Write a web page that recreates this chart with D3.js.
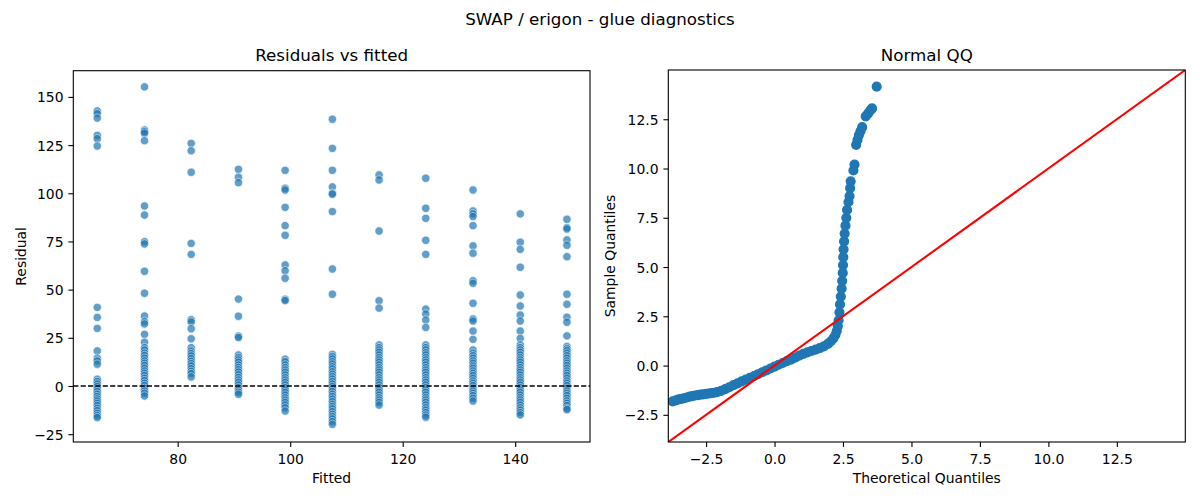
<!DOCTYPE html>
<html><head><meta charset="utf-8">
<script src="https://cdn.jsdelivr.net/npm/d3@7"></script>
<style>
html,body{margin:0;padding:0;background:#fff;}
svg{display:block;font-family:"DejaVu Sans",sans-serif;}
</style></head>
<body><svg id="chart" width="1200" height="500"></svg>
<script>
// ---------- data ----------
const suptitle = "SWAP / erigon - glue diagnostics";
const fittedLevels = [65.7, 74.1, 82.4, 90.8, 99.1, 107.5, 115.8, 124.1, 132.5, 140.9, 149.2];
const res1 = [142.7,141.3,139.0,130.0,128.3,124.5,40.8,35.6,29.9,18.2,14.4,13.0,11.3,3.5,2.3,1.0,-0.3,-1.6,-2.9,-4.3,-5.5,-6.7,-7.8,-9.0,-10.2,-11.6,-12.8,-14.2,-15.4,-16.4];
const res2 = [155.2,132.8,132.0,131.1,127.3,93.4,88.7,74.9,73.7,59.5,48.1,36.3,33.4,32.2,26.8,22.7,19.9,18.7,17.0,15.8,14.4,13.0,11.8,10.6,9.2,7.8,6.6,5.4,4.0,2.8,1.4,0.2,-1.2,-2.6,-3.8,-5.2];
const res3 = [125.9,122.1,110.9,74.0,68.3,34.4,33.2,29.7,24.5,19.9,18.1,16.8,15.6,14.2,12.8,11.6,10.4,9.0,7.6,6.4,4.7];
const res4 = [112.4,108.3,105.5,45.1,36.2,25.9,25.1,16.1,14.7,13.5,12.3,10.9,9.6,8.4,7.2,5.8,4.4,3.1,1.9,0.5,-0.9,-2.1,-3.3,-4.3];
const res5 = [111.9,102.6,101.7,92.7,83.2,78.2,62.8,59.8,55.9,45.0,44.3,13.9,12.6,10.9,9.5,8.3,7.1,5.7,4.3,3.1,1.9,0.5,-0.9,-2.1,-3.3,-4.7,-6.1,-7.3,-8.5,-9.9,-11.3,-13.0];
const res6 = [138.4,123.3,111.9,103.3,100.0,99.5,90.5,60.7,47.6,16.4,15.2,14.0,12.6,11.4,10.0,8.8,7.4,6.1,4.8,3.6,2.3,1.0,-0.3,-1.6,-2.9,-4.3,-5.5,-6.8,-8.1,-9.5,-10.7,-11.9,-13.3,-14.7,-15.9,-17.1,-18.5,-19.9];
const res7 = [109.5,106.9,80.4,44.2,40.4,21.3,19.9,18.7,17.5,16.1,14.7,13.5,12.3,10.9,9.5,8.3,7.1,5.7,4.3,3.1,1.9,0.5,-0.9,-2.1,-3.3,-4.7,-6.1,-7.3,-8.5,-9.9];
const res8 = [107.8,92.2,87.0,75.6,68.3,39.9,37.3,34.2,30.4,21.3,19.9,18.7,17.3,16.1,14.7,13.5,12.3,10.9,9.5,8.3,7.1,5.7,4.3,3.1,1.9,0.5,-0.9,-2.1,-3.3,-4.7,-6.1,-7.3,-8.5,-9.9,-11.3,-12.5,-13.8,-15.1,-16.2];
const res9 = [101.7,90.8,89.3,87.9,83.2,72.7,68.9,54.6,53.3,42.9,34.8,33.7,28.5,24.2,18.7,17.0,15.7,14.4,13.0,11.8,10.4,9.2,7.8,6.6,5.4,4.0,2.6,1.4,0.2,-1.2,-2.6,-3.8,-5.0,-6.4,-7.8];
const res10 = [89.3,74.6,70.9,61.6,47.2,41.5,36.8,33.7,28.5,24.7,21.3,19.9,18.7,17.5,16.1,14.7,13.5,12.3,10.9,9.5,8.3,7.1,5.7,4.3,3.1,1.9,0.5,-0.9,-2.1,-3.3,-4.7,-6.1,-7.3,-8.5,-9.9,-11.3,-12.5,-13.8,-15.0];
const res11 = [86.5,82.2,81.5,75.8,73.0,67.1,47.6,42.4,35.7,33.1,26.0,20.5,19.3,18.3,17.0,15.7,14.4,13.0,11.8,10.6,9.2,7.8,6.6,5.4,4.0,2.6,1.4,0.2,-1.2,-2.6,-3.8,-5.0,-6.4,-7.8,-9.0,-10.2,-11.6,-12.3];
const residualsByLevel = [res1,res2,res3,res4,res5,res6,res7,res8,res9,res10,res11];

const leftXTicks = [80, 100, 120, 140];
const leftYTicks = [-25, 0, 25, 50, 75, 100, 125, 150];

const qqTheoretical = [-3.72,-3.6,-3.5,-3.4,-3.3,-3.2,-3.1,-3.0,-2.9,-2.8,-2.7,-2.6,-2.5,-2.4,-2.3,-2.2,-2.1,-1.95,-1.8,-1.65,-1.5,-1.35,-1.2,-1.05,-0.9,-0.75,-0.6,-0.45,-0.3,-0.15,0,0.15,0.3,0.45,0.6,0.75,0.9,1.05,1.2,1.35,1.5,1.65,1.8,1.95,2.05,2.15,2.22,2.27,2.31,2.34,2.37,2.39,2.42,2.45,2.47,2.49,2.5,2.51,2.52,2.54,2.56,2.59,2.62,2.65,2.7,2.74,2.76,2.78,2.88,2.92,2.98,3.03,3.08,3.14,3.2,3.33,3.42,3.5,3.56,3.73];
const qqSample = [-1.82,-1.77,-1.72,-1.69,-1.66,-1.62,-1.58,-1.55,-1.52,-1.5,-1.48,-1.46,-1.44,-1.42,-1.4,-1.38,-1.35,-1.29,-1.2,-1.1,-0.99,-0.9,-0.8,-0.71,-0.62,-0.53,-0.44,-0.34,-0.25,-0.15,-0.05,0.04,0.13,0.22,0.3,0.4,0.5,0.59,0.67,0.74,0.81,0.88,0.97,1.1,1.22,1.38,1.55,1.75,2.0,2.3,2.7,3.1,3.5,3.9,4.3,4.7,5.1,5.5,5.9,6.3,6.7,7.1,7.5,7.9,8.3,8.6,9.0,9.35,9.9,10.2,11.2,11.45,11.7,11.9,12.1,12.65,12.8,12.95,13.05,14.16];
const qqLimits = [-3.88, 15.0];
const qqTicks = [-2.5, 0, 2.5, 5, 7.5, 10, 12.5];

// ---------- drawing ----------
const svg = d3.select("#chart");
const tickFont = 13.9, labelFont = 13.9, titleFont = 16.7;
const blue = "#1f77b4";

svg.append("text").attr("x", 600).attr("y", 24.5).attr("text-anchor", "middle")
  .attr("font-size", titleFont).attr("fill", "#000").text(suptitle);

function drawFrame(g, box, x, y, xt, yt, xfmt, yfmt, title, xlabel, ylabel, ylabelX) {
  g.append("rect").attr("x", box.l).attr("y", box.t).attr("width", box.r - box.l).attr("height", box.b - box.t)
    .attr("fill", "none").attr("stroke", "#000").attr("stroke-width", 1.1);
  const xa = g.append("g").attr("transform", `translate(0,${box.b})`)
    .call(d3.axisBottom(x).tickValues(xt).tickFormat(xfmt).tickSize(4.9).tickPadding(4.9));
  const ya = g.append("g").attr("transform", `translate(${box.l},0)`)
    .call(d3.axisLeft(y).tickValues(yt).tickFormat(yfmt).tickSize(4.9).tickPadding(4.9));
  [xa, ya].forEach(a => {
    a.select(".domain").remove();
    a.selectAll(".tick line").attr("stroke", "#000").attr("stroke-width", 1.1);
    a.selectAll(".tick text").attr("font-size", tickFont).attr("fill", "#000")
      .attr("font-family", "DejaVu Sans");
  });
  xa.selectAll(".tick text").attr("dy", null).attr("y", 21.5);
  ya.selectAll(".tick text").attr("dy", "0.36em");
  g.append("text").attr("x", (box.l + box.r) / 2).attr("y", 61).attr("text-anchor", "middle")
    .attr("font-size", titleFont).attr("fill", "#000").text(title);
  g.append("text").attr("x", (box.l + box.r) / 2).attr("y", 482.5).attr("text-anchor", "middle")
    .attr("font-size", labelFont).attr("fill", "#000").text(xlabel);
  g.append("text").attr("transform", `translate(${ylabelX},${(box.t + box.b) / 2}) rotate(-90)`)
    .attr("text-anchor", "middle").attr("font-size", labelFont).attr("fill", "#000").text(ylabel);
}

// Left panel
const boxL = {l: 73.3, r: 590, t: 70.7, b: 442};
const xL = d3.scaleLinear().domain([61.44, 153.3]).range([boxL.l, boxL.r]);
const yL = d3.scaleLinear().domain([-29.06, 163.6]).range([boxL.b, boxL.t]);
const gL = svg.append("g");
svg.append("clipPath").attr("id", "clipL").append("rect")
  .attr("x", boxL.l).attr("y", boxL.t).attr("width", boxL.r - boxL.l).attr("height", boxL.b - boxL.t);
const scatterPts = [];
fittedLevels.forEach((f, i) => residualsByLevel[i].forEach(r => scatterPts.push({f, r})));
const ptsL = gL.append("g").attr("clip-path", "url(#clipL)");
ptsL.selectAll("circle").data(scatterPts).join("circle")
  .attr("cx", d => xL(d.f)).attr("cy", d => yL(d.r)).attr("r", 4.2)
  .attr("fill", blue).attr("stroke", "#fff").attr("stroke-width", 0.7).attr("opacity", 0.7);
gL.append("line").attr("x1", boxL.l).attr("x2", boxL.r).attr("y1", yL(0)).attr("y2", yL(0))
  .attr("stroke", "#000").attr("stroke-width", 1.39).attr("stroke-dasharray", "5.14,2.22");
drawFrame(gL, boxL, xL, yL, leftXTicks, leftYTicks, d3.format("d"), d3.format("d"),
  "Residuals vs fitted", "Fitted", "Residual", 25.5);

// Right panel
const boxR = {l: 668.3, r: 1185.3, t: 70, b: 442};
const xR = d3.scaleLinear().domain(qqLimits).range([boxR.l, boxR.r]);
const yR = d3.scaleLinear().domain(qqLimits).range([boxR.b, boxR.t]);
const gR = svg.append("g");
svg.append("clipPath").attr("id", "clipR").append("rect")
  .attr("x", boxR.l).attr("y", boxR.t).attr("width", boxR.r - boxR.l).attr("height", boxR.b - boxR.t);
const qqPts = qqTheoretical.map((t, i) => ({t, s: qqSample[i]}));
const ptsR = gR.append("g").attr("clip-path", "url(#clipR)");
ptsR.selectAll("circle").data(qqPts).join("circle")
  .attr("cx", d => xR(d.t)).attr("cy", d => yR(d.s)).attr("r", 4.4)
  .attr("fill", blue).attr("stroke", blue).attr("stroke-width", 1.39);
ptsR.append("line").attr("x1", xR(qqLimits[0])).attr("y1", yR(qqLimits[0]))
  .attr("x2", xR(qqLimits[1])).attr("y2", yR(qqLimits[1]))
  .attr("stroke", "#ff0000").attr("stroke-width", 2.08);
drawFrame(gR, boxR, xR, yR, qqTicks, qqTicks, d3.format(".1f"), d3.format(".1f"),
  "Normal QQ", "Theoretical Quantiles", "Sample Quantiles", 615);
</script></body></html>
